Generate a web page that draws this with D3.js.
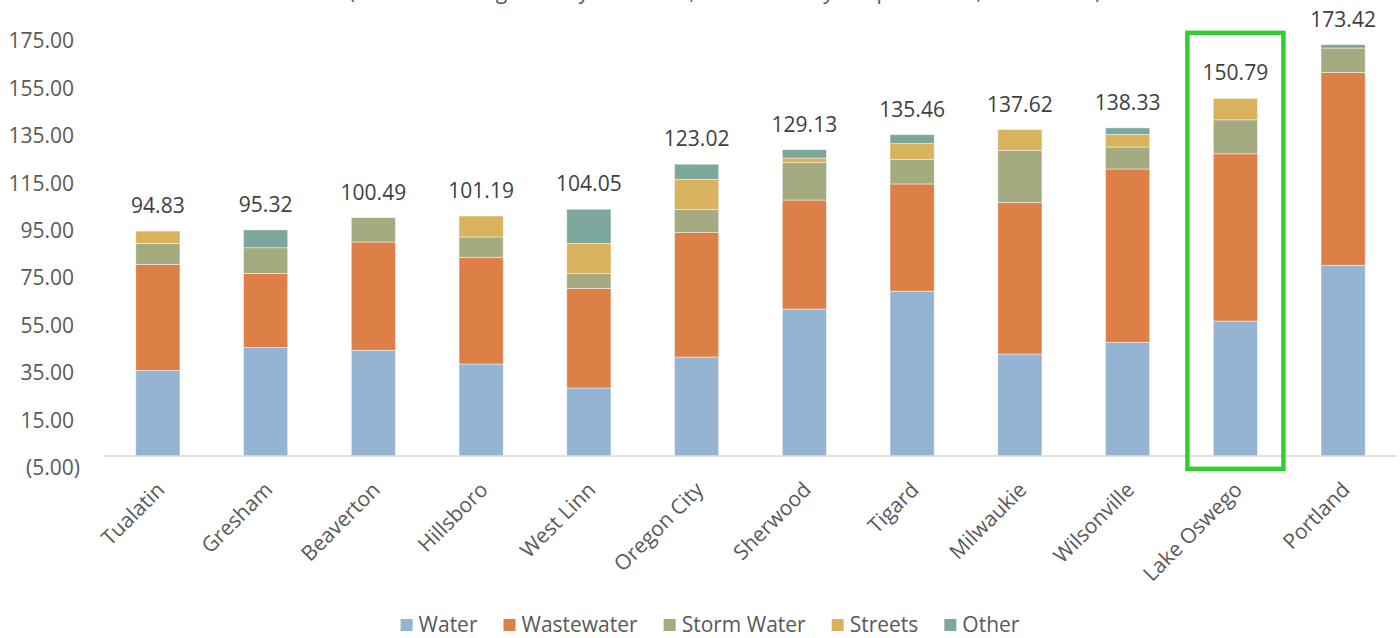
<!DOCTYPE html>
<html>
<head>
<meta charset="utf-8">
<script src="https://cdn.jsdelivr.net/npm/d3@7"></script>
<style>
  body { margin: 0; background: #fff; }
  svg text { font-family: "Open Sans", "Noto Sans", sans-serif; }
</style>
</head>
<body>
<div id="container"></div>
<script>
// cities, lowest to highest monthly total
const cities = ["Tualatin", "Gresham", "Beaverton", "Hillsboro", "West Linn", "Oregon City",
    "Sherwood", "Tigard", "Milwaukie", "Wilsonville", "Lake Oswego", "Portland"];

const seriesNames = ["Water", "Wastewater", "Storm Water", "Streets", "Other"];
const seriesColors = ["#95b3d2", "#dd8047", "#a5ab81", "#d8b25c", "#7ba79d"];

const water      = [36.10, 45.80, 44.56, 38.80, 28.67, 41.74, 61.97, 69.50, 43.00, 47.90, 56.90, 80.40];
const wastewater = [44.70, 31.20, 45.66, 45.00, 42.00, 52.57, 45.95, 45.20, 63.80, 73.10, 70.50, 81.30];
const stormWater = [ 8.85, 10.80, 10.27,  8.56,  6.32,  9.70, 15.74, 10.40, 22.06,  9.27, 14.33, 10.30];
const streets    = [ 5.18,  0.00,  0.00,  8.83, 12.65, 12.65,  1.97,  6.60,  8.76,  5.34,  9.06,  0.00];
const other      = [ 0.00,  7.52,  0.00,  0.00, 14.41,  6.36,  3.50,  3.76,  0.00,  2.72,  0.00,  1.42];

const yTicks = [-5, 15, 35, 55, 75, 95, 115, 135, 155, 175];
const highlighted = "Lake Oswego";

const width = 1400, height = 638;
const fs = 21;

const svg = d3.select("#container").append("svg")
    .attr("width", width)
    .attr("height", height);

// build rows for the stack
const rows = cities.map((c, i) => ({
    city: c,
    "Water": water[i],
    "Wastewater": wastewater[i],
    "Storm Water": stormWater[i],
    "Streets": streets[i],
    "Other": other[i]
}));

const stacked = d3.stack().keys(seriesNames)(rows);
const total = d => seriesNames.reduce((s, k) => s + d[k], 0);

const x = d3.scaleBand()
    .domain(cities)
    .range([104, 1397])
    .paddingInner(0.59)
    .paddingOuter(0.295);

const y = d3.scaleLinear()
    .domain([-5, 175])
    .range([467.9, 40.9]);

const color = d3.scaleOrdinal().domain(seriesNames).range(seriesColors);

// subtitle, mostly clipped off the top like the original
svg.append("text")
    .attr("x", 725)
    .attr("y", -1)
    .attr("text-anchor", "middle")
    .attr("font-size", fs)
    .attr("fill", "#595959")
    .text("(based on a single family residence, most recently adopted rates, FY 2017/18)");

// y axis labels, accounting style
svg.append("g").selectAll("text")
    .data(yTicks)
    .enter().append("text")
    .attr("x", d => d < 0 ? 80 : 74)
    .attr("y", d => y(d))
    .attr("dy", "0.35em")
    .attr("text-anchor", "end")
    .attr("font-size", fs)
    .attr("fill", "#595959")
    .text(d => d < 0 ? "(" + d3.format(".2f")(-d) + ")" : d3.format(".2f")(d));

// bars
svg.append("g").selectAll("g")
    .data(stacked)
    .enter().append("g")
    .attr("fill", d => color(d.key))
    .selectAll("rect")
    .data(d => d)
    .enter().append("rect")
    .attr("x", d => x(d.data.city))
    .attr("width", x.bandwidth())
    .attr("y", d => y(d[1]))
    .attr("height", d => Math.max(0, y(d[0]) - y(d[1])))
    .attr("stroke", "#ffffff")
    .attr("stroke-opacity", d => (d[1] - d[0]) > 0 ? 0.6 : 0)
    .attr("stroke-width", 0.75);

// category axis line
svg.append("line")
    .attr("x1", x.range()[0])
    .attr("x2", x.range()[1])
    .attr("y1", y(0))
    .attr("y2", y(0))
    .attr("stroke", "#d9d9d9")
    .attr("stroke-width", 1.5);

// total labels
svg.append("g").selectAll("text")
    .data(rows)
    .enter().append("text")
    .attr("x", d => x(d.city) + x.bandwidth() / 2)
    .attr("y", d => y(total(d)) - 18)
    .attr("text-anchor", "middle")
    .attr("font-size", fs)
    .attr("fill", "#404040")
    .text(d => total(d).toFixed(2));

// rotated city labels
svg.append("g").selectAll("text")
    .data(cities)
    .enter().append("text")
    .attr("transform", d => `translate(${x(d) + x.bandwidth() / 2 + 8},${y(0) + 35}) rotate(-45)`)
    .attr("text-anchor", "end")
    .attr("font-size", fs)
    .attr("fill", "#595959")
    .text(d => d);

// green highlight box
const hx = x(highlighted) + x.bandwidth() / 2;
svg.append("rect")
    .attr("x", hx - 48)
    .attr("y", y(178.4))
    .attr("width", 96)
    .attr("height", y(-5.4) - y(178.4))
    .attr("fill", "none")
    .attr("stroke", "#33cc33")
    .attr("stroke-width", 4.5);

// legend
const legend = svg.append("g");
let lx = 0;
seriesNames.forEach(name => {
    const item = legend.append("g").attr("transform", `translate(${lx},0)`);
    item.append("rect")
        .attr("x", 0)
        .attr("y", -13)
        .attr("width", 12)
        .attr("height", 12)
        .attr("fill", color(name));
    const t = item.append("text")
        .attr("x", 18)
        .attr("y", 0)
        .attr("font-size", fs)
        .attr("fill", "#595959")
        .text(name);
    lx += 18 + t.node().getComputedTextLength() + 26;
});
lx -= 26;
legend.attr("transform", `translate(${710 - lx / 2},632)`);
</script>
</body>
</html>
